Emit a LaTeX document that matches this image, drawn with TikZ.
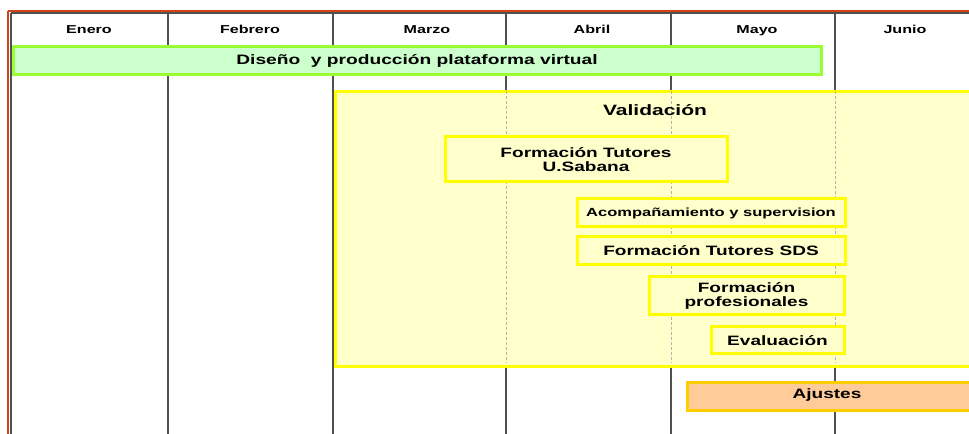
\documentclass[tikz,border=0pt]{standalone}
\usepackage{fontspec}
\setmainfont{Liberation Sans}[FakeStretch=1.4]
\definecolor{edgeorange}{HTML}{D0441A}
\definecolor{gridgray}{HTML}{505050}
\definecolor{dashgray}{HTML}{B4B4A8}
\definecolor{greenline}{HTML}{99FF33}
\definecolor{greenfill}{HTML}{CCFFCC}
\definecolor{yline}{HTML}{FFFF00}
\definecolor{yfill}{HTML}{FFFFCC}
\definecolor{ajline}{HTML}{FFCC00}
\definecolor{ajfill}{HTML}{FFCC99}
\tikzset{
  gridline/.style={draw=gridgray, line width=1.2bp},
  dashline/.style={draw=dashgray, line width=0.8bp, dash pattern=on 3bp off 2bp},
  edgeline/.style={draw=edgeorange, line width=1.6bp},
  month/.style={inner sep=0, anchor=base, font=\fontsize{11.5bp}{12bp}\selectfont\bfseries},
  bar/.style={rectangle, line width=3bp, inner sep=0, anchor=north west},
  greenbar/.style={bar, draw=greenline, fill=greenfill},
  yellowbox/.style={bar, draw=yline, fill=yfill},
  ajbox/.style={bar, draw=ajline, fill=ajfill},
  boxtext/.style={inner sep=0, align=center, font=\fontsize{13.6bp}{14.6bp}\selectfont\bfseries},
}
\begin{document}
\begin{tikzpicture}[x=1bp, y=-1bp]
\useasboundingbox (0,0) rectangle (969,434);
\clip (0,0) rectangle (969,434);
% grid
\foreach \gx in {11,168,333,506,671,835} {
  \draw[gridline] (\gx,13) -- (\gx,434);
}
\draw[gridline] (11,13) -- (969,13);
\draw[edgeline] (8,11.3) -- (969,11.3);
\draw[edgeline] (8,11.3) -- (8,434);
% month headers
\node[month] (ene) at (89,33.5) {Enero};
\node[month] (feb) at (250,33.5) {Febrero};
\node[month] (mar) at (427,33.5) {Marzo};
\node[month] (abr) at (592,33.5) {Abril};
\node[month] (may) at (757,33.5) {Mayo};
\node[month] (jun) at (905,33.5) {Junio};
% design bar
\node[greenbar, minimum width=808bp, minimum height=28bp] (dis) at (11.5,45.5) {};
\node[boxtext, font=\fontsize{13.7bp}{14bp}\selectfont\bfseries] (distext) at (dis.center) {Diseño\ \ y producción plataforma virtual};
% validation
\node[yellowbox, minimum width=650bp, minimum height=274.5bp] (val) at (333.5,90) {};
\foreach \gx in {506,671,835} {
  \draw[dashline] (\gx,91.5) -- (\gx,363);
}
\node[boxtext, font=\fontsize{15bp}{16bp}\selectfont\bfseries] (valtext) at (655,110.5) {Validación};
% inner boxes
\node[yellowbox, minimum width=282bp, minimum height=45bp] (ftu) at (443.5,135.5) {};
\node[boxtext] (ftutext) at (ftu.center) {Formación Tutores\\U.Sabana};
\node[yellowbox, minimum width=268bp, minimum height=28bp] (aco) at (575.5,197.5) {};
\node[boxtext, font=\fontsize{11.8bp}{13bp}\selectfont\bfseries] (acotext) at (aco.center) {Acompañamiento y supervision};
\node[yellowbox, minimum width=268bp, minimum height=28bp] (sds) at (575.5,235.5) {};
\node[boxtext] (sdstext) at (sds.center) {Formación Tutores SDS};
\node[yellowbox, minimum width=195bp, minimum height=38bp] (fpr) at (647.5,275.5) {};
\node[boxtext] (fprtext) at (fpr.center) {Formación\\profesionales};
\node[yellowbox, minimum width=133bp, minimum height=27bp] (eva) at (709.5,325.5) {};
\node[boxtext] (evatext) at (eva.center) {Evaluación};
% adjustments
\node[ajbox, minimum width=300bp, minimum height=27bp] (aju) at (685.5,381.5) {};
\node[boxtext] (ajutext) at (827,395) {Ajustes};
\end{tikzpicture}
\end{document}
